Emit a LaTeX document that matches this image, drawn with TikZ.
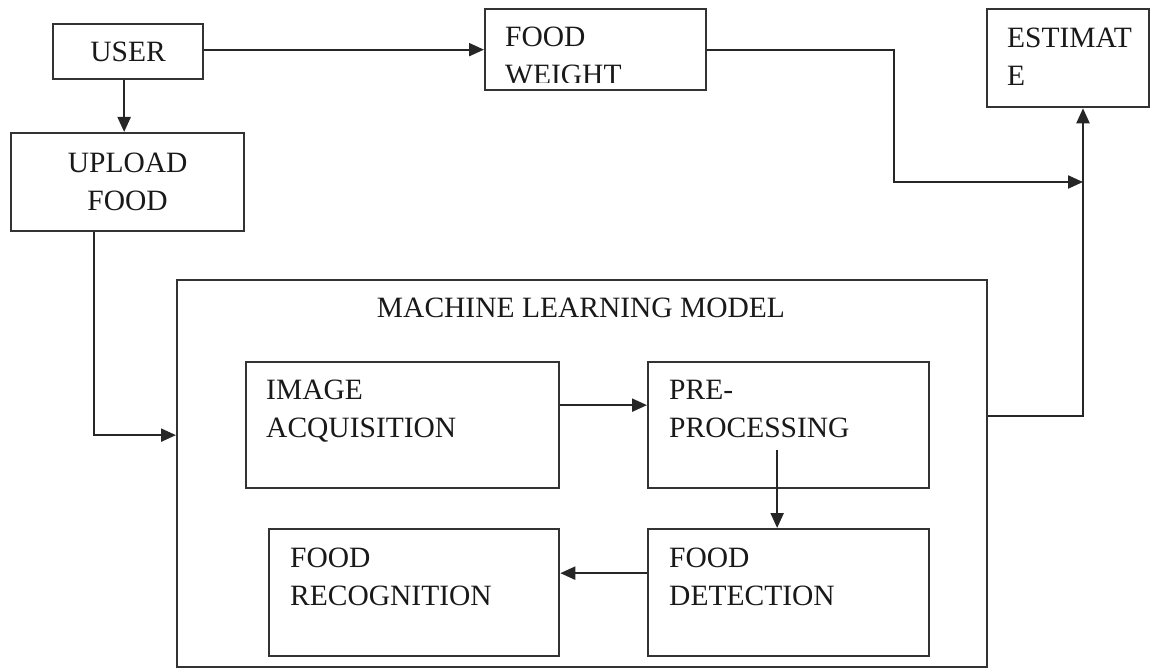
\documentclass[tikz,border=0pt]{standalone}
\usepackage{fontspec}
\setmainfont{Liberation Serif}
\usetikzlibrary{arrows.meta}

\begin{document}
\begin{tikzpicture}[x=1pt,y=-1pt,
    every node/.style={font=\fontsize{29.5}{38}\selectfont, text=black!90},
    box/.style={draw=black!80, line width=2.3pt, anchor=north west, inner sep=0pt},
    txt/.style={anchor=north west, inner sep=0pt, align=left},
    arr/.style={draw=black!85, line width=2.2pt, -{Triangle[length=15pt,width=13pt]}}]
    \useasboundingbox (0,0) rectangle (1151,668);

    % Top row
    \node[box, minimum width=150pt, minimum height=55pt] (user) at (52,23) {USER};
    \node[box, minimum width=233pt, minimum height=98pt, align=center] (upload) at (10,132) {UPLOAD\\FOOD};
    \node[box, minimum width=221pt, minimum height=81pt] (weight) at (484,8) {};
    \node[box, minimum width=162pt, minimum height=98pt] (estim) at (986,8) {};

    % Model
    \node[box, minimum width=810pt, minimum height=387pt] (ml) at (176,279) {};
    \node[anchor=base] (mltitle) at (581,317) {MACHINE LEARNING MODEL};
    \node[box, minimum width=313pt, minimum height=126pt] (acq) at (245,361) {};
    \node[box, minimum width=281pt, minimum height=126pt] (pre) at (647,361) {};
    \node[box, minimum width=290pt, minimum height=127pt] (recog) at (268,528) {};
    \node[box, minimum width=281pt, minimum height=127pt] (detect) at (647,528) {};

    % Labels
    \begin{scope}
        \clip (weight.north west) rectangle ([yshift=9pt]weight.south east);
        \node[txt] (weighttxt) at ([shift={(21,19)}]weight.north west) {FOOD\\WEIGHT};
    \end{scope}
    \node[txt] (esttxt) at ([shift={(21,20)}]estim.north west) {ESTIMAT\\E};
    \node[txt] (acqtxt) at ([shift={(21,19)}]acq.north west) {IMAGE\\ACQUISITION};
    \node[txt] (pretxt) at ([shift={(22,19)}]pre.north west) {PRE-\\PROCESSING};
    \node[txt] (recogtxt) at ([shift={(22,20)}]recog.north west) {FOOD\\RECOGNITION};
    \node[txt] (detecttxt) at ([shift={(22,20)}]detect.north west) {FOOD\\DETECTION};

    % Arrows
    \coordinate (bend) at (894,182);
    \coordinate (join) at (1083,182);
    \draw[arr] ([xshift=-4pt]user.south) -- ([xshift=-4pt]user.south |- upload.north);
    \draw[arr] (user.east |- weight.west) -- (weight.west);
    \draw[arr] (weight.east) -| (bend) -- (join);
    \draw[arr] ([yshift=57.5pt]ml.east) -| (join |- estim.south);
    \draw[arr] ([xshift=-33.5pt]upload.south) |- ([yshift=38.5pt]ml.west);
    \draw[arr] ([yshift=20pt]acq.east) -- ([yshift=20pt]pre.west);
    \draw[arr] ([xshift=-11.5pt,yshift=39pt]pre.south) -- ([xshift=-11.5pt]detect.north);
    \draw[arr] ([yshift=19.5pt]detect.west) -- ([yshift=19.5pt]recog.east);
\end{tikzpicture}
\end{document}
